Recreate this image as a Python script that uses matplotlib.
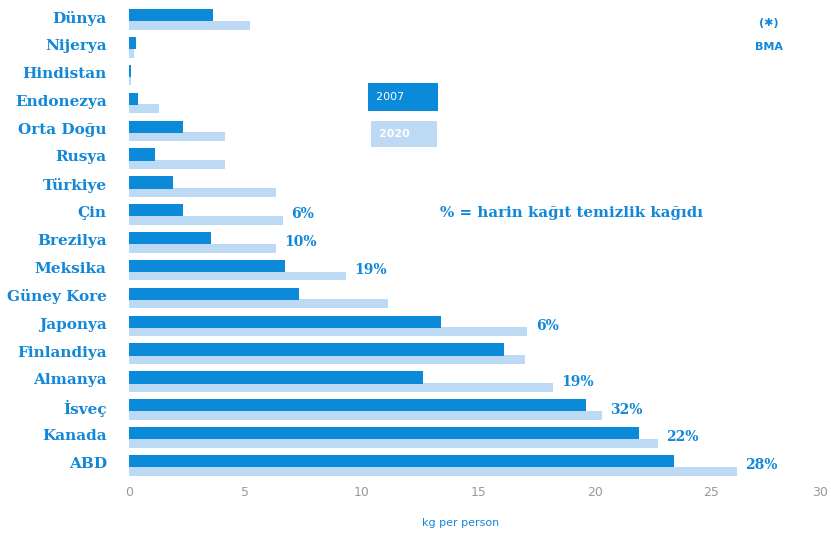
import numpy as np
import matplotlib
matplotlib.use("Agg")
import matplotlib.pyplot as plt

# -------- DATA --------
countries = ["Dünya", "Nijerya", "Hindistan", "Endonezya", "Orta Doğu", "Rusya",
             "Türkiye", "Çin", "Brezilya", "Meksika", "Güney Kore", "Japonya",
             "Finlandiya", "Almanya", "İsveç", "Kanada", "ABD"]
val_2007 = [3.6, 0.3, 0.1, 0.4, 2.3, 1.1, 1.9, 2.3, 3.5, 6.7, 7.3, 13.4,
            16.1, 12.6, 19.6, 21.9, 23.4]
val_2020 = [5.2, 0.2, 0.1, 1.3, 4.1, 4.1, 6.3, 6.6, 6.3, 9.3, 11.1, 17.1,
            17.0, 18.2, 20.3, 22.7, 26.1]
pct_labels = {"Çin": "6%", "Brezilya": "10%", "Meksika": "19%", "Japonya": "6%",
              "Almanya": "19%", "İsveç": "32%", "Kanada": "22%", "ABD": "28%"}
x_ticks = [0, 5, 10, 15, 20, 25, 30]

# -------- STYLE --------
DARK = "#0a8ad8"
LIGHT = "#bcdaf3"
TEXT_BLUE = "#1388d8"

fig = plt.figure(figsize=(8.31, 5.33), dpi=100)
ax = fig.add_axes([129 / 831, 0.0957, 699 / 831, 0.902])

y = np.arange(len(countries))

# light bars (2020) sit slightly below and behind the dark ones
ax.barh(y + 0.36, val_2020, height=0.32, color=LIGHT, zorder=2)
ax.barh(y, val_2007, height=0.44, color=DARK, zorder=3)

for i, name in enumerate(countries):
    if name in pct_labels:
        ax.annotate(pct_labels[name], xy=(val_2020[i], y[i] + 0.15),
                    xytext=(6, 0), textcoords="offset points",
                    ha="left", va="center", color=TEXT_BLUE,
                    fontsize=10, fontweight="bold", family="DejaVu Serif")

ax.set_xlim(0, 30)
ax.set_ylim(16.75, -0.5)
ax.set_yticks(y + 0.05)
ax.set_yticklabels(countries, family="DejaVu Serif", fontweight="bold",
                   fontsize=11, color=TEXT_BLUE)
ax.set_xticks(x_ticks)
ax.set_xticklabels([str(t) for t in x_ticks], color="#9a9a9a", fontsize=9)
# the 30 label is cut at the right edge in the original, keep it inside here
ax.get_xticklabels()[-1].set_ha("right")
ax.tick_params(axis="both", length=0)
ax.tick_params(axis="y", pad=16)
ax.tick_params(axis="x", pad=3)
for s in ax.spines.values():
    s.set_visible(False)

ax.set_xlabel("kg per person", color=TEXT_BLUE, fontsize=8)
ax.xaxis.set_label_coords(0.474, -0.075)

# -------- LEGEND BOXES --------
ax.text(0.354, 0.8, "2007       ", transform=ax.transAxes, color="white", fontsize=8,
        va="center", ha="left",
        bbox=dict(boxstyle="square,pad=0.8", fc=DARK, ec="none"))
ax.text(0.358, 0.724, "2020     ", transform=ax.transAxes, color="white", fontsize=8,
        va="center", ha="left", fontweight="bold",
        bbox=dict(boxstyle="square,pad=0.7", fc=LIGHT, ec="none"))

ax.text(0.445, 0.56, "% = harin kağıt temizlik kağıdı", transform=ax.transAxes,
        color=TEXT_BLUE, fontsize=10.8, fontweight="bold", family="DejaVu Serif",
        va="center", ha="left")

ax.text(0.915, 0.905, "BMA", transform=ax.transAxes, color=TEXT_BLUE,
        fontsize=8, fontweight="bold", ha="center", va="center")
ax.text(0.915, 0.955, "(✱)", transform=ax.transAxes, color=TEXT_BLUE,
        fontsize=8, fontweight="bold", ha="center", va="center")

fig.savefig("out.png", dpi=100)
